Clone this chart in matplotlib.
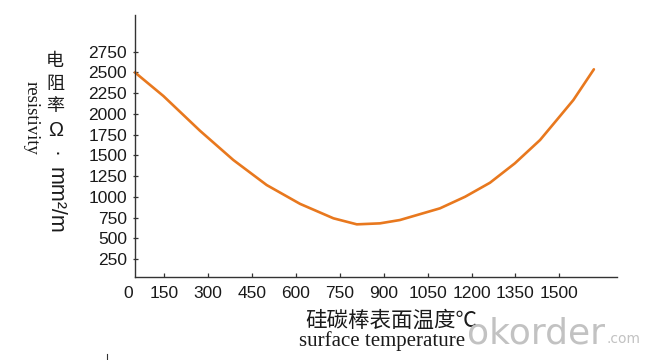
import matplotlib
matplotlib.use("Agg")
import matplotlib.pyplot as plt
from matplotlib.lines import Line2D

# Data
temperature = [50, 147, 272, 386, 500, 614, 728, 808, 887, 955, 1092,
               1178, 1263, 1348, 1434, 1491, 1548, 1618]
resistivity = [2500, 2216, 1797, 1444, 1142, 915, 741, 668, 680, 720, 861,
               1001, 1170, 1404, 1685, 1926, 2168, 2538]
x_ticks = [150, 300, 450, 600, 750, 900, 1050, 1200, 1350, 1500]
y_ticks = [250, 500, 750, 1000, 1250, 1500, 1750, 2000, 2250, 2500, 2750]
zero_label_pos = 26

W, H = 654, 360
fig = plt.figure(figsize=(W / 100, H / 100), dpi=100)

def fx(px):
    return px / W

def fy(py):
    return 1 - py / H

ax = fig.add_axes([fx(135), fy(276.5), (617 - 135) / W, (276.5 - 15) / H])
ax.plot(temperature, resistivity, color="#E8781E", lw=1.9, clip_on=False,
        solid_joinstyle="round", solid_capstyle="round")
ax.set_xlim(50, 1697)
ax.set_ylim(39, 3193)

for s in ("top", "right"):
    ax.spines[s].set_visible(False)
for s in ("left", "bottom"):
    ax.spines[s].set_color("#333333")
    ax.spines[s].set_linewidth(1.0)

tick_font = dict(family=["Liberation Sans", "DejaVu Sans"], size=12.5)
ax.set_xticks(x_ticks)
ax.set_xticklabels([str(v) for v in x_ticks], **tick_font, color="#1a1a1a")
ax.set_yticks(y_ticks)
ax.set_yticklabels([str(v) for v in y_ticks], **tick_font, color="#1a1a1a")
ax.tick_params(axis="x", direction="in", length=3, width=0.9, color="#333333", pad=7)
ax.tick_params(axis="y", direction="inout", length=3.6, width=0.9, color="#333333", pad=4)

ax.annotate("0", xy=(zero_label_pos, 0), xycoords=ax.get_xaxis_transform(),
            xytext=(0, -7), textcoords="offset points", ha="center", va="top",
            annotation_clip=False, color="#1a1a1a", **tick_font)

# Y label: upright CJK characters stacked, then rotated unit
cjk = ["Noto Sans CJK SC", "DejaVu Sans"]
sans = ["Liberation Sans", "DejaVu Sans"]
for ch, py in zip(["电", "阻", "率"], [61, 83.5, 106]):
    fig.text(fx(55), fy(py), ch, family=cjk, size=13, ha="center", va="center",
             color="#1a1a1a")
fig.text(fx(55.5), fy(130), "Ω", family=sans, size=14.5,
         ha="center", va="center", color="#1a1a1a")
fig.text(fx(55), fy(154), "·", family=sans, size=15, rotation=-90,
         ha="center", va="center", color="#1a1a1a")
fig.text(fx(55), fy(200), "mm²/m", family=sans, size=15.5, rotation=-90,
         ha="center", va="center", color="#1a1a1a")
fig.text(fx(31.5), fy(117.5), "resistivity", family=["Liberation Serif", "DejaVu Serif"],
         size=13.5, rotation=-90, ha="center", va="center", color="#1a1a1a")

# X label
fig.text(fx(391.5), fy(321), "硅碳棒表面温度℃", family=cjk, size=15.5,
         ha="center", va="center", color="#1a1a1a")
fig.text(fx(382), fy(346), "surface temperature",
         family=["Liberation Serif", "DejaVu Serif"], size=15,
         ha="center", va="baseline", color="#1a1a1a")

# Watermark
wm = fig.text(fx(467), fy(343), "okorder", family=["DejaVu Sans"], size=26,
              ha="left", va="baseline", color="#c2c2c2")
fig.canvas.draw()
bb = wm.get_window_extent()
fig.text(bb.x1 / W + 0.002, fy(343), ".com", family=["DejaVu Sans"], size=10,
         ha="left", va="baseline", color="#c2c2c2")

fig.add_artist(Line2D([fx(107), fx(107)], [fy(354), fy(360)], color="#333333", lw=0.8))

fig.savefig("out.png", dpi=100)
